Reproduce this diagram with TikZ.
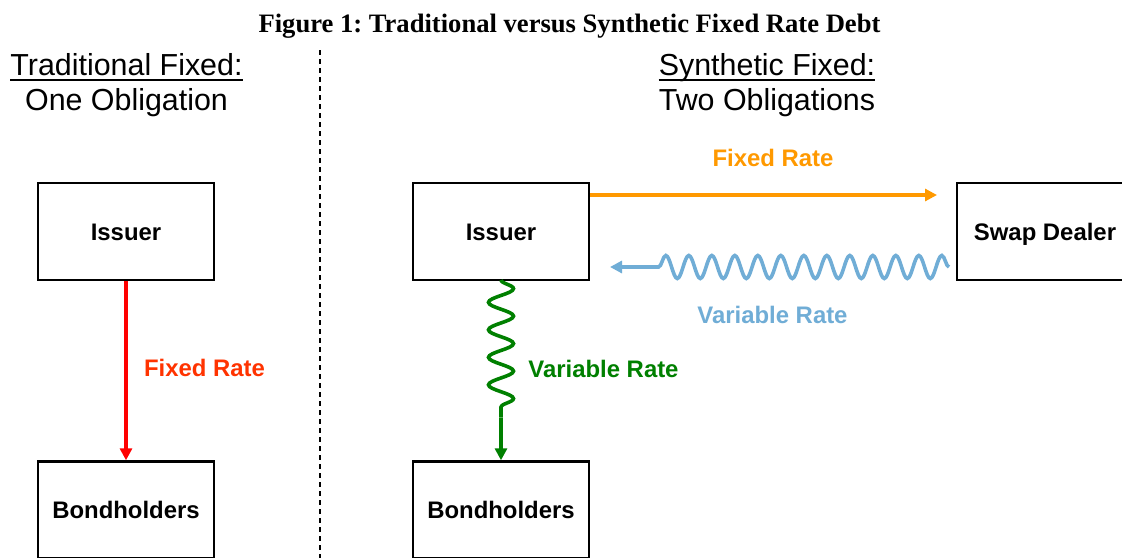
\documentclass[tikz,border=0pt]{standalone}
\usepackage{fontspec}
\setmainfont{Liberation Serif}
\newfontfamily\arial{Liberation Sans}
\usetikzlibrary{arrows.meta,decorations.pathmorphing}
\definecolor{fxred}{RGB}{255,0,0}
\definecolor{fxlabel}{RGB}{255,51,0}
\definecolor{fxorange}{RGB}{255,153,0}
\definecolor{varblue}{RGB}{112,173,214}
\definecolor{vargreen}{RGB}{0,128,0}
\frenchspacing
\begin{document}
\begin{tikzpicture}[x=1pt,y=-1pt,
  party/.style={draw=black,line width=2.4pt,minimum width=176pt,minimum height=97pt,inner sep=0pt,
    font=\arial\bfseries\fontsize{23.9}{28}\selectfont,text height=17pt,text depth=0pt},
  heading/.style={anchor=base,inner sep=0pt,font=\arial\fontsize{30.4}{36}\selectfont},
  flowlabel/.style={inner sep=0pt,font=\arial\bfseries\fontsize{23.9}{28}\selectfont},
  tip/.style={-{Triangle[length=12pt,width=12pt]}},
  flow/.style={line width=3.3pt},
  wavy/.style={line width=3.6pt,decorate,decoration={snake,amplitude=#1}}
]
\clip (0,0) rectangle (1122,557);
\fill[white] (0,0) rectangle (1122,557);

% title
\node[anchor=base,inner sep=0pt,font=\bfseries\fontsize{26.6}{30}\selectfont] (title) at (569.5,32)
  {Figure 1: Traditional versus Synthetic Fixed Rate Debt};

% divider
\coordinate (d1) at (320,50);
\coordinate (d2) at (320,560);
\draw[line width=1.4pt,dash pattern=on 5pt off 4pt] (d1) -- (d2);

% headings
\node[heading] (tf) at (126.5,75) {Traditional Fixed:};
\draw[line width=2pt] ([yshift=-4.5pt]tf.base west) -- ([yshift=-4.5pt]tf.base east);
\node[heading] (oo) at (126.5,110) {One Obligation};
\node[heading] (sf) at (767,75) {Synthetic Fixed:};
\draw[line width=2pt] ([yshift=-4.5pt]sf.base west) -- ([yshift=-4.5pt]sf.base east);
\node[heading] (to) at (767,110) {Two Obligations};

% boxes
\node[party] (issL) at (126,231.5) {Issuer};
\node[party] (bondL) at (126,510) {Bondholders};
\node[party] (issR) at (501,231.5) {Issuer};
\node[party] (bondR) at (501,510) {Bondholders};
\node[party] (swap) at (1045,231.5) {Swap Dealer};

% traditional: fixed rate
\draw[flow,fxred,tip] (issL) -- (bondL);
\node[flowlabel,text=fxlabel] (lblFixL) at (204.5,368) {Fixed Rate};

% synthetic: variable rate to bondholders
\coordinate (g0) at (501,280);
\coordinate (g1) at (501,417.5);
\draw[vargreen,wavy=12.5pt,decoration={segment length=27.5pt}] (g0) -- (g1);
\draw[flow,vargreen,tip] (g1) -- (bondR);
\node[flowlabel,text=vargreen] (lblVarG) at (603.5,369) {Variable Rate};

% fixed rate to swap dealer
\coordinate (o0) at (issR.east |- 0,195);
\coordinate (o1) at (937,195);
\draw[flow,fxorange,tip] (o0) -- (o1);
\node[flowlabel,text=fxorange] (lblFixO) at (773,158) {Fixed Rate};

% variable rate from swap dealer
\coordinate (b0) at (949,267);
\coordinate (b1) at (650,267);
\coordinate (b2) at (610,267);
\draw[varblue,wavy=11.5pt,decoration={segment length=23pt,mirror}] (b0) -- (b1);
\draw[flow,varblue,tip] (b1) -- (b2);
\node[flowlabel,text=varblue] (lblVarB) at (772.5,315) {Variable Rate};
\end{tikzpicture}
\end{document}
